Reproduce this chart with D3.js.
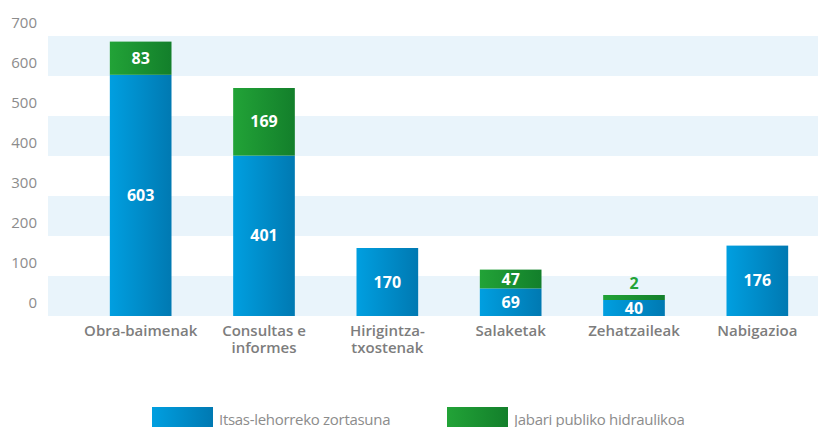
<!DOCTYPE html>
<html>
<head>
<meta charset="utf-8">
<script src="https://cdn.jsdelivr.net/npm/d3@7"></script>
<style>
  body { margin: 0; background: #fff; }
  svg { display: block; font-family: "Open Sans", "DejaVu Sans", sans-serif; }
</style>
</head>
<body>
<svg id="chart" width="818" height="427"></svg>
<script>
// data
var categories = ["Obra-baimenak", "Consultas e informes", "Hirigintza-txostenak", "Salaketak", "Zehatzaileak", "Nabigazioa"];
var catLines = [["Obra-baimenak"], ["Consultas e", "informes"], ["Hirigintza-", "txostenak"], ["Salaketak"], ["Zehatzaileak"], ["Nabigazioa"]];
var itsas = [603, 401, 170, 69, 40, 176];
var jabari = [83, 169, 0, 47, 2, 0];
var seriesNames = ["Itsas-lehorreko zortasuna", "Jabari publiko hidraulikoa"];
var yTicks = [0, 100, 200, 300, 400, 500, 600, 700];

var svg = d3.select("#chart");
var defs = svg.append("defs");

function gradient(id, c1, c2) {
  var g = defs.append("linearGradient").attr("id", id)
    .attr("x1", "0%").attr("x2", "100%").attr("y1", "0%").attr("y2", "0%");
  g.append("stop").attr("offset", "0%").attr("stop-color", c1);
  g.append("stop").attr("offset", "100%").attr("stop-color", c2);
}
gradient("gBlue", "#009fe0", "#0079b2");
gradient("gGreen", "#22a337", "#137f2b");

var x = d3.scaleBand().domain(categories).range([79, 819]).paddingInner(0.5).paddingOuter(0.25);
var y = d3.scaleLinear().domain([0, 700]).range([316, 36]);
var minH = 5; // tiny segments still get a visible sliver

// alternating background bands
var bands = [[0, 100], [200, 300], [400, 500], [600, 700]];
svg.append("g").selectAll("rect").data(bands).enter().append("rect")
  .attr("x", 48).attr("width", 818 - 48)
  .attr("y", function(d){ return y(d[1]); })
  .attr("height", function(d){ return y(d[0]) - y(d[1]); })
  .attr("fill", "#e9f4fb");

// y tick labels sit above their value line
svg.append("g").selectAll("text").data(yTicks).enter().append("text")
  .attr("x", 37).attr("y", function(d){ return y(d) - 13; })
  .attr("dy", "0.35em")
  .attr("text-anchor", "end")
  .attr("font-size", 15)
  .attr("fill", "#8c8c8c")
  .text(function(d){ return d; });

var rows = categories.map(function(c, i){ return {cat: c, a: itsas[i], b: jabari[i]}; });
var stack = d3.stack().keys(["a", "b"])(rows);
var fills = ["url(#gBlue)", "url(#gGreen)"];

function segTop(s){
  var h = y(s[0]) - y(s[1]);
  return h < minH ? y(s[0]) - minH : y(s[1]);
}

var layers = svg.append("g").selectAll("g").data(stack).enter().append("g")
  .attr("fill", function(d, i){ return fills[i]; });

layers.selectAll("rect").data(function(d){ return d.filter(function(s){ return s[1] > s[0]; }); })
  .enter().append("rect")
  .attr("x", function(d){ return x(d.data.cat); })
  .attr("width", x.bandwidth())
  .attr("y", segTop)
  .attr("height", function(d){ return y(d[0]) - segTop(d); });

// value labels
stack.forEach(function(layer){
  layer.forEach(function(s){
    var v = s[1] - s[0];
    if (v <= 0) return;
    var h = y(s[0]) - y(s[1]);
    var small = h < 12;
    svg.append("text")
      .attr("x", x(s.data.cat) + x.bandwidth() / 2)
      .attr("y", small ? segTop(s) - 12 : (y(s[0]) + y(s[1])) / 2)
      .attr("dy", "0.35em")
      .attr("text-anchor", "middle")
      .attr("font-size", 16)
      .attr("font-weight", 700)
      .attr("fill", small ? "#22a337" : "#fff")
      .text(v);
  });
});

// category labels
var cl = svg.append("g").selectAll("text").data(categories).enter().append("text")
  .attr("x", function(d){ return x(d) + x.bandwidth() / 2; })
  .attr("y", 331)
  .attr("text-anchor", "middle")
  .attr("font-size", 15)
  .attr("font-weight", 600)
  .attr("fill", "#7d7d7d");
cl.each(function(d, i){
  var t = d3.select(this);
  catLines[i].forEach(function(line, j){
    t.append("tspan").attr("x", x(d) + x.bandwidth() / 2)
      .attr("dy", j === 0 ? "0.35em" : "17").text(line);
  });
});

// legend
var legX = [152, 447];
var leg = svg.append("g").selectAll("g").data(seriesNames).enter().append("g")
  .attr("transform", function(d, i){ return "translate(" + legX[i] + ",407)"; });
leg.append("rect").attr("width", 61).attr("height", 22)
  .attr("fill", function(d, i){ return fills[i]; });
leg.append("text").attr("x", 67).attr("y", 13).attr("dy", "0.35em")
  .attr("font-size", 15).attr("fill", "#8c8c8c")
  .attr("letter-spacing", "-0.3")
  .text(function(d){ return d; });
</script>
</body>
</html>
